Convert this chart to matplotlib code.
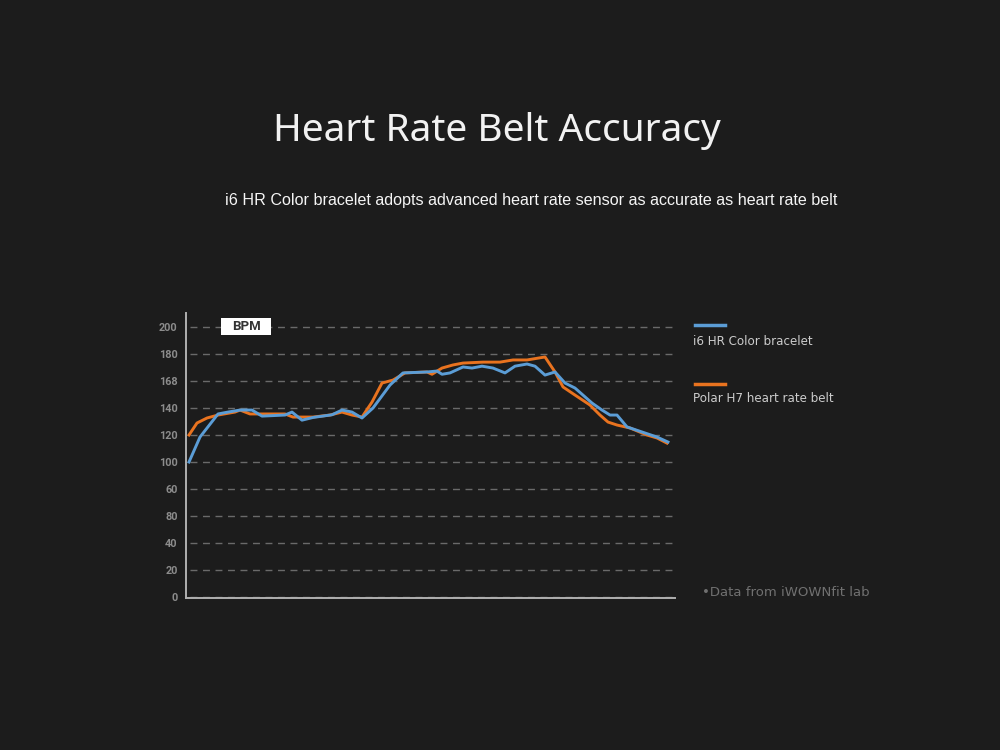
import numpy as np
import matplotlib
matplotlib.use('Agg')
import matplotlib.pyplot as plt
from matplotlib.lines import Line2D
from matplotlib.patches import Rectangle

# reading positions (sample index) and heart rate values
bracelet_x = [0, 1.1, 2.9, 3.9, 5.1, 6.3, 7.3, 9.6, 10.3, 11.3, 12.4, 14.3, 15.3, 16.3, 17.3,
              18.4, 20.1, 21.4, 23.8, 24.8, 25.3, 26.1, 27.4, 28.3, 29.3, 30.4, 31.6, 32.6,
              33.8, 34.6, 35.6, 36.6, 37.6, 38.6, 40.3, 41.3, 42.1, 42.8, 43.8, 45.4, 46.8, 47.9]
bracelet_bpm = [100, 118.5, 135.6, 137, 138.5, 138.5, 134, 134.8, 137, 131, 133, 135, 138.5, 137, 132.6,
                140, 157, 166, 166.7, 167.4, 165, 166, 170.4, 169.6, 171, 169.6, 166, 171,
                172.6, 171, 164.4, 166.7, 158.5, 154.8, 143.7, 138.5, 134.8, 134.8, 126, 122, 118.5, 114.8]

belt_x = [0, 0.8, 1.8, 2.9, 4.6, 5.1, 6.1, 9.6, 10.4, 12.4, 14.1, 15.3, 16.3, 17.3, 18.3, 19.3,
          20.4, 21.6, 23.8, 24.3, 25.3, 26.4, 27.4, 29.4, 31.1, 32.4, 33.8, 35.6, 36.6, 37.4,
          38.6, 40.1, 41.1, 41.9, 42.8, 44.1, 45.8, 46.8, 47.8]
belt_bpm = [120, 128.9, 132.6, 134.8, 137, 138.5, 135.6, 135.6, 133.3, 133.3, 134.8, 137, 134.8, 133.3, 144.4, 158.5,
            160.7, 166, 166.7, 165, 169.6, 171.9, 173.3, 174, 174, 175.6, 175.6, 177.8, 166.7, 155.6,
            149.6, 142.2, 134.8, 129.6, 127.4, 125.2, 120, 117.8, 114]

tick_pos = [0, 20, 40, 60, 80, 100, 120, 140, 160, 180, 200]
tick_txt = ['0', '20', '40', '80', '60', '100', '120', '140', '168', '180', '200']

series_names = ['i6 HR Color bracelet', 'Polar H7 heart rate belt']
blue = '#5b9dd6'
orange = '#e9731f'
bg = '#1c1c1c'

fig = plt.figure(figsize=(10, 7.5), dpi=100, facecolor=bg)
ax = fig.add_axes([0.186, 0.2027, 0.489, 0.38])
ax.set_facecolor(bg)

ax.plot(belt_x, belt_bpm, color=orange, lw=2.1, solid_joinstyle='round', zorder=3)
ax.plot(bracelet_x, bracelet_bpm, color=blue, lw=2.1, solid_joinstyle='round', zorder=4)

ax.set_xlim(-0.3, 48.6)
ax.set_ylim(-0.7, 210.4)
ax.set_xticks([])
ax.set_yticks(tick_pos)
ax.set_yticklabels(tick_txt)
ax.tick_params(axis='y', length=0, pad=6, labelsize=7.8, labelcolor='#8c8c8c')
for lab in ax.get_yticklabels():
    lab.set_fontweight('bold')
    lab.set_family('Roboto')

for v in tick_pos:
    ax.axhline(v, xmin=0.008, xmax=1.0, color='#6a6a6a', lw=1.0, ls=(0, (5, 4)), zorder=1)

for s in ['top', 'right']:
    ax.spines[s].set_visible(False)
for s in ['left', 'bottom']:
    ax.spines[s].set_color('#b0b0b0')
    ax.spines[s].set_linewidth(1.4)

# BPM label box
ax.add_patch(Rectangle((0.0716, 0.923), 0.102, 0.059, transform=ax.transAxes,
                       fc='white', ec='none', zorder=5, clip_on=False))
ax.text(0.123, 0.953, 'BPM', transform=ax.transAxes, ha='center', va='center',
        fontsize=9.5, fontweight='bold', color='#333333', family='Roboto', zorder=6)

# titles
fig.text(0.497, 1 - 131 / 750, 'Heart Rate Belt Accuracy', ha='center', va='center',
         fontsize=28, fontweight='medium', color='#f2f2f2', family='Noto Sans')
fig.text(0.531, 1 - 201 / 750, 'i6 HR Color bracelet adopts advanced heart rate sensor as accurate as heart rate belt',
         ha='center', va='center', fontsize=11.6, color='#f5f5f5', family='Liberation Sans')

# legend
fig.add_artist(Line2D([0.695, 0.725], [1 - 325 / 750, 1 - 325 / 750], color=blue, lw=2.5))
fig.add_artist(Line2D([0.695, 0.725], [1 - 384 / 750, 1 - 384 / 750], color=orange, lw=2.5))
fig.text(0.693, 1 - 342 / 750, series_names[0], ha='left', va='center',
         fontsize=8.6, color='#cccccc', family='DejaVu Sans')
fig.text(0.693, 1 - 399 / 750, series_names[1], ha='left', va='center',
         fontsize=8.6, color='#cccccc', family='DejaVu Sans')

fig.text(0.702, 1 - 592 / 750, '\u2022Data from iWOWNfit lab', ha='left', va='center',
         fontsize=9.5, color='#707070', family='DejaVu Sans')

fig.savefig('out.png', dpi=100, facecolor=bg)
